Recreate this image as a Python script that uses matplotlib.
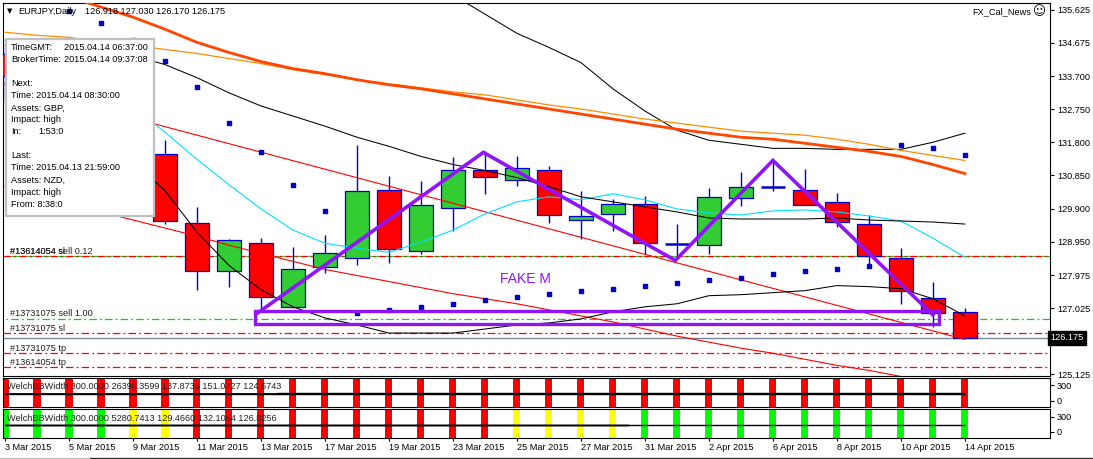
import numpy as np
import matplotlib
matplotlib.use("Agg")
import matplotlib.pyplot as plt
from matplotlib.patches import Rectangle
from matplotlib.lines import Line2D
from matplotlib.transforms import blended_transform_factory

plt.rcParams["font.family"] = ["Liberation Sans", "DejaVu Sans"]
plt.rcParams["font.size"] = 6.6

# ---- data -------------------------------------------------------------
days = ["3 Mar 2015", "4 Mar 2015", "5 Mar 2015", "6 Mar 2015", "9 Mar 2015",
        "10 Mar 2015", "11 Mar 2015", "12 Mar 2015", "13 Mar 2015", "16 Mar 2015",
        "17 Mar 2015", "18 Mar 2015", "19 Mar 2015", "20 Mar 2015", "23 Mar 2015",
        "24 Mar 2015", "25 Mar 2015", "26 Mar 2015", "27 Mar 2015", "30 Mar 2015",
        "31 Mar 2015", "1 Apr 2015", "2 Apr 2015", "3 Apr 2015", "6 Apr 2015",
        "7 Apr 2015", "8 Apr 2015", "9 Apr 2015", "10 Apr 2015", "13 Apr 2015",
        "14 Apr 2015"]

opens = [134.360, 133.720, 133.100, 132.700, 131.100, 131.457, 129.482, 128.088,
         128.901, 127.071, 128.204, 128.466, 130.441, 128.669, 129.918, 131.021,
         130.731, 131.021, 129.569, 129.744, 130.034, 128.872, 128.843, 130.208,
         130.528, 130.441, 130.092, 129.453, 128.466, 127.333, 126.918]
highs = [134.507, 133.950, 133.550, 132.950, 131.750, 131.864, 129.947, 129.017,
         129.046, 128.785, 129.134, 131.719, 130.847, 130.702, 131.370, 131.544,
         131.399, 131.109, 130.412, 130.179, 130.266, 129.453, 130.499, 130.963,
         131.283, 131.050, 130.353, 129.714, 128.756, 127.797, 127.030]
lows = [132.996, 132.980, 132.450, 130.950, 130.800, 129.453, 127.565, 127.652,
        126.926, 127.042, 128.030, 128.262, 128.320, 128.582, 129.250, 130.324,
        130.557, 129.482, 129.017, 129.250, 128.582, 128.436, 128.582, 129.976,
        130.412, 130.005, 129.366, 128.233, 127.158, 126.490, 126.170]
closes = [133.720, 133.100, 132.700, 131.100, 131.450, 129.540, 128.088, 128.988,
          127.362, 128.146, 128.611, 130.412, 128.727, 130.005, 131.021, 130.818,
          131.080, 129.714, 129.685, 130.034, 128.901, 128.872, 130.237, 130.528,
          130.528, 130.005, 129.511, 128.524, 127.536, 126.897, 126.175]

ma_slow = [136.627, 136.337, 135.988, 135.698, 135.407, 135.059, 134.681, 134.391,
           134.129, 133.926, 133.781, 133.606, 133.461, 133.345, 133.200, 133.055,
           132.909, 132.764, 132.619, 132.474, 132.328, 132.183, 132.067, 131.951,
           131.893, 131.777, 131.660, 131.544, 131.399, 131.167, 130.905]
ma_orange = [134.972, 134.884, 134.826, 134.681, 134.594, 134.478, 134.362, 134.216,
             134.071, 133.897, 133.752, 133.606, 133.490, 133.374, 133.258, 133.171,
             133.026, 132.880, 132.764, 132.619, 132.474, 132.358, 132.241, 132.125,
             132.067, 132.009, 131.893, 131.748, 131.573, 131.428, 131.283]
bb_mid = [134.594, 134.536, 134.449, 134.391, 134.303, 134.042, 133.664, 133.229,
          132.851, 132.561, 132.270, 131.951, 131.690, 131.399, 131.167, 130.992,
          130.789, 130.528, 130.237, 130.092, 129.947, 129.802, 129.627, 129.598,
          129.598, 129.598, 129.627, 129.569, 129.540, 129.511, 129.453]
bb_upper = [np.nan] * 13 + [136.424, 136.046, 135.494, 134.942, 134.536, 134.100,
                            133.345, 132.706, 132.154, 131.864, 131.748, 131.631,
                            131.631, 131.602, 131.602, 131.602, 131.806, 132.067]
bb_lower = [134.158, 133.432, 132.706, 131.980, 131.254, 130.412, 129.221, 128.262,
            127.565, 127.071, 126.752, 126.549, 126.316, 126.316, 126.316, 126.432,
            126.549, 126.607, 126.723, 126.926, 127.071, 127.158, 127.391, 127.420,
            127.478, 127.536, 127.681, 127.652, 127.594, 127.304, 126.810]
ma_fast = [134.739, 134.303, 133.868, 133.345, 132.822, 132.096, 131.312, 130.586,
           129.889, 129.279, 128.901, 128.756, 128.640, 128.930, 129.279, 129.744,
           130.092, 130.237, 130.150, 130.324, 130.150, 129.889, 129.773, 129.714,
           129.831, 129.860, 129.802, 129.685, 129.540, 129.046, 128.495]
env_lower = [130.528, 130.295, 130.063, 129.802, 129.569, 129.337, 129.105, 128.843,
             128.611, 128.378, 128.146, 127.972, 127.798, 127.623, 127.449, 127.304,
             127.158, 126.984, 126.810, 126.636, 126.432, 126.229, 126.055, 125.881,
             125.735, 125.561, 125.387, 125.242, 125.067, 124.893]
sar = [136.337, 135.959, 135.581, 135.233, 134.739, 134.158, 133.403, 132.358,
       131.515, 130.586, 129.831, 126.897, 126.984, 127.071, 127.158, 127.275,
       127.362, 127.449, 127.536, 127.594, 127.681, 127.769, 127.856, 127.914,
       128.001, 128.088, 128.146, 128.233, 131.719, 131.631, 131.428]

trend_bars = [-1, 30]
trend_prices = [133.725, 126.133]

order_levels = [128.524, 128.524, 126.723, 126.316, 125.735, 125.329]
order_kinds = ["sell", "sl", "sell", "sl", "tp", "tp"]
order_labels = ["#13614054 sell 0.12", "#13614054 sl", "#13731075 sell 1.00",
                "#13731075 sl", "#13731075 tp", "#13614054 tp"]
bid = 126.175

m_bars = [7.9, 14.95, 20.95, 24.0, 29.0]
m_prices = [126.897, 131.515, 128.407, 131.283, 126.839]
box_bars = [7.8, 29.2]
box_prices = [126.578, 126.955]

price_ticks = [135.625, 134.675, 133.700, 132.750, 131.800, 130.850, 129.900,
               128.950, 127.975, 127.025, 125.125]

hist1_colors = ["r"] * 31
hist2_colors = ["g"] * 4 + ["y"] * 2 + ["r"] * 10 + ["y"] * 4 + ["g"] * 11
panel1_levels = [(124.6743, 0, 30, 1.3), (137.8735, 0, 30, 1.0), (151.0727, 8.5, 30, 1.0)]
panel2_levels = [(129.4660, 0, 30, 1.0), (132.1064, 0, 19.5, 1.0), (126.8256, 0, 19.5, 1.0)]
panel1_text = "WelchBBWidth 300.0000 26398.3599 137.8735 151.0727 124.6743"
panel2_text = "WelchBBWidth 300.0000 5280.7413 129.4660 132.1064 126.8256"

info_rows = [("TimeGMT:", "2015.04.14 06:37:00"), ("BrokerTime:", "2015.04.14 09:37:08"),
             ("", ""), ("Next:", ""), ("Time: 2015.04.14 08:30:00", ""),
             ("Assets: GBP,", ""), ("Impact: high", ""), ("In:", "1:53:0"),
             ("", ""), ("Last:", ""), ("Time: 2015.04.13 21:59:00", ""),
             ("Assets: NZD,", ""), ("Impact: high", ""), ("From: 8:38:0", "")]

# ---- style ------------------------------------------------------------
GREEN, RED, EDGE = "#32CD32", "#FF0000", "#0000C8"
PURPLE = "#8F14FA"
HCOL = {"r": "#FF0000", "g": "#00FF00", "y": "#FFFF00"}
OCOL = {"sell": "#22C322", "sl": "#FF0000", "tp": "#FF0000"}
DASHDOT = (0, (6, 2.5, 1.5, 2.5))

W, H = 1093, 459


def fx(px):
    return px / W


def fy(py):
    return 1 - py / H


fig = plt.figure(figsize=(W / 100, H / 100), dpi=100)
ax = fig.add_axes([fx(3), fy(376), fx(1050) - fx(3), (376 - 3) / H])
ax1 = fig.add_axes([fx(3), fy(407), fx(1050) - fx(3), (407 - 378) / H])
ax2 = fig.add_axes([fx(3), fy(438), fx(1050) - fx(3), (438 - 409) / H])

xlim = (-0.0625, 32.66)
x = np.arange(len(opens))
o, h, l, c = (np.array(v) for v in (opens, highs, lows, closes))

# ---- main chart -------------------------------------------------------
for lvl, kind in zip(order_levels, order_kinds):
    ls = DASHDOT if kind != "sell" else (6.3, (6, 2.5, 1.5, 2.5))
    ax.axhline(lvl, color=OCOL[kind], lw=0.9, linestyle=ls, zorder=1)
ax.axhline(bid, color="#778899", lw=1.0, zorder=1)

ax.vlines(x, l, h, color=EDGE, lw=1.0, zorder=3)
up, dn, flat = c > o, c < o, c == o
ax.bar(x[up], (c - o)[up], bottom=o[up], width=0.75, color=GREEN,
       edgecolor=EDGE, linewidth=0.9, zorder=4)
ax.bar(x[dn], (o - c)[dn], bottom=c[dn], width=0.75, color=RED,
       edgecolor=EDGE, linewidth=0.9, zorder=4)
ax.hlines(c[flat], x[flat] - 0.375, x[flat] + 0.375, color=EDGE, lw=1.8, zorder=4)

ax.plot(trend_bars, trend_prices, color="red", lw=0.8, zorder=5)
ax.plot(np.arange(len(env_lower)), env_lower, color="red", lw=0.8, zorder=5)
ax.plot(x, ma_fast, color="#00E0FF", lw=0.8, zorder=5)
ax.plot(x, bb_mid, color="black", lw=0.75, zorder=5)
ax.plot(x, bb_upper, color="black", lw=0.75, zorder=5)
ax.plot(x, bb_lower, color="black", lw=0.75, zorder=5)
ax.plot(x, ma_orange, color="#FF8C00", lw=0.9, zorder=5)
ax.plot(x, ma_slow, color="#FF4500", lw=2.0, zorder=5)
ax.plot(x, sar, "s", color="#0000CD", ms=2.2, zorder=6)

ax.plot(m_bars, m_prices, color=PURPLE, lw=2.6, zorder=7, solid_joinstyle="miter")
ax.add_patch(Rectangle((box_bars[0], box_prices[0]), box_bars[1] - box_bars[0],
                       box_prices[1] - box_prices[0], fill=False, edgecolor=PURPLE,
                       lw=2.4, zorder=7))
ax.text(16.28, 127.885, "FAKE M", color=PURPLE, fontsize=10, ha="center",
        va="center", zorder=8)

blend = blended_transform_factory(ax.transAxes, ax.transData)
for lvl, txt in zip(order_levels, order_labels):
    ax.annotate(txt, xy=(0, lvl), xycoords=blend, xytext=(5, 0.3),
                textcoords="offset points", ha="left", va="bottom",
                color="#202020", zorder=8)

ax.set_xlim(*xlim)
ax.set_ylim(125.080, 135.814)
ax.set_xticks([])
ax.yaxis.tick_right()
ax.set_yticks(price_ticks)
ax.set_yticklabels([f"{p:.3f}" for p in price_ticks])
ax.tick_params(axis="y", length=3, width=0.8, pad=2, labelsize=6.6)
ax.text(1.0, bid, f"{bid:.3f}", transform=blend, ha="left", va="center",
        color="white", zorder=9,
        bbox=dict(boxstyle="square,pad=0.25", facecolor="black", edgecolor="black"))

# ---- indicator panels -------------------------------------------------
for pax, cols, levels, label, ylim in [
        (ax1, hist1_colors, panel1_levels, panel1_text, (-120, 434)),
        (ax2, hist2_colors, panel2_levels, panel2_text, (-126, 454))]:
    pax.set_xlim(*xlim)
    pax.set_ylim(*ylim)
    pax.bar(np.arange(len(cols)), ylim[1] - ylim[0], bottom=ylim[0], width=0.22,
            color=[HCOL[k] for k in cols], zorder=1)
    for val, b0, b1, lw in levels:
        pax.hlines(val, b0, b1, color="black", lw=lw, zorder=2)
    pax.text(0.004, 0.72 if pax is ax1 else 0.66, label, transform=pax.transAxes,
             ha="left", va="center", color="#202020", zorder=3)
    pax.yaxis.tick_right()
    pax.set_yticks([0, 300])
    pax.set_yticklabels(["0", "300"])
    pax.tick_params(axis="y", length=3, width=0.8, pad=2, labelsize=6.6)

ax1.set_xticks([])
ax2.set_xticks(x[::2])
ax2.set_xticklabels(days[::2], ha="left")
ax2.tick_params(axis="x", length=2.5, width=0.8, pad=1.2, labelsize=6.6)

for a in (ax, ax1, ax2):
    for s in a.spines.values():
        s.set_linewidth(0.8)
        s.set_color("black")

# ---- header texts and news box ----------------------------------------
fig.text(fx(7), fy(11), "\u25bc", fontsize=5, family="DejaVu Sans", va="center")
fig.text(fx(18), fy(11), "EURJPY,Daily", va="center")
fig.text(fx(85), fy(11), f"{opens[-1]:.3f} {highs[-1]:.3f} {lows[-1]:.3f} {closes[-1]:.3f}",
         va="center")
fig.text(fx(1031), fy(12), "FX_Cal_News", ha="right", va="center")
fig.text(fx(1039), fy(12), "\u263a", ha="center", va="center", fontsize=9,
         family="DejaVu Sans")

fig.add_artist(Rectangle((fx(6), fy(216)), fx(154) - fx(6), (216 - 39) / H,
                         transform=fig.transFigure, facecolor="white",
                         edgecolor="#C0C0C0", lw=1.6, zorder=5))
value_x = {0: 64, 1: 64, 7: 38}
for i, (lab, val) in enumerate(info_rows):
    yy = fy(47.7 + 12.03 * i)
    if lab:
        fig.text(fx(11), yy, lab, va="center", zorder=6)
    if val:
        fig.text(fx(value_x[i]), yy, val, va="center", zorder=6)

fig.add_artist(Line2D([fx(89), 1], [fy(458), fy(458)], color="#303030", lw=1.0))
fig.add_artist(Line2D([0, fx(89)], [fy(458), fy(458)], color="#C8C8C8", lw=1.0))

fig.savefig("out.png", dpi=100)
